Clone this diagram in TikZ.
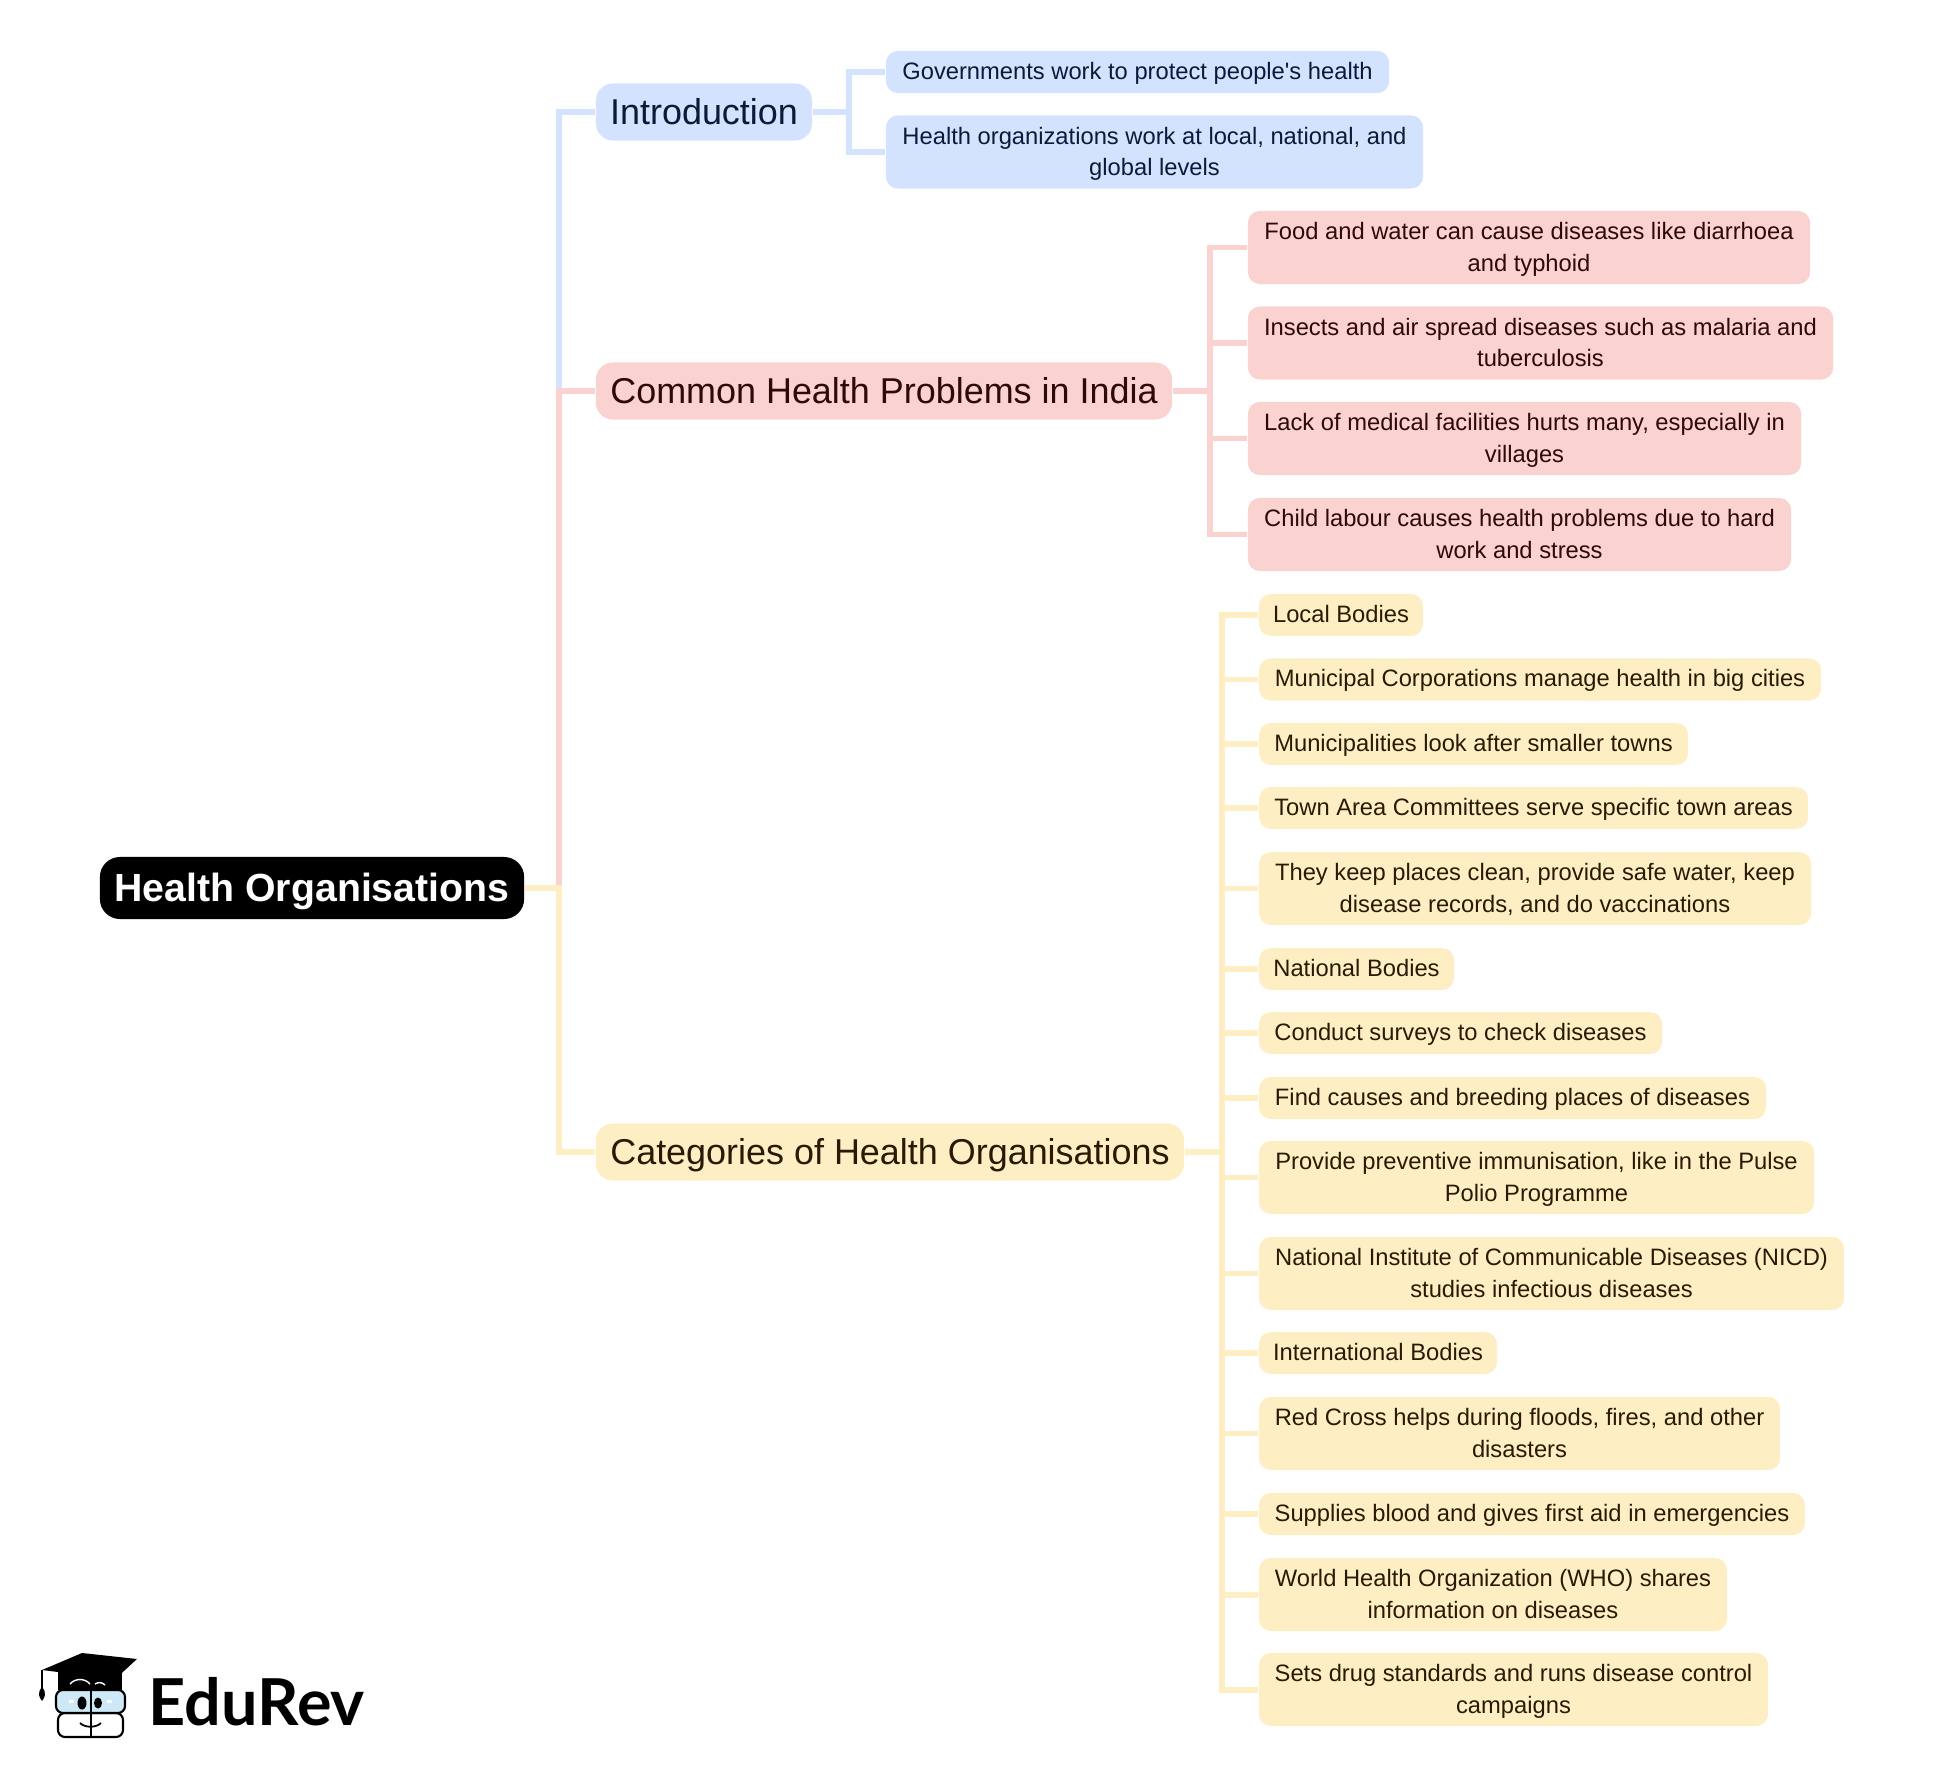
\documentclass[tikz,border=0pt]{standalone}
\usepackage{fontspec}
\setmainfont{Liberation Sans}
\newfontfamily\logofont{Lato}
\definecolor{bluefill}{HTML}{D3E3FD}
\definecolor{bluetext}{HTML}{0A1A3A}
\definecolor{redfill}{HTML}{FAD2CF}
\definecolor{redtext}{HTML}{2D0A08}
\definecolor{yellowfill}{HTML}{FDEFC3}
\definecolor{yellowtext}{HTML}{2A1A05}
\definecolor{lensblue}{HTML}{CDE8F6}
\tikzset{
  box/.style={inner sep=0pt,align=center,minimum height=0.42cm,rounded corners=0.12cm,text height=5.2pt,text depth=1pt,font=\fontsize{6.75}{9}\selectfont},
  parentbox/.style={inner sep=0pt,minimum height=0.57cm,rounded corners=0.17cm,text height=8.2pt,text depth=1.32pt,font=\fontsize{10.22}{12}\selectfont},
  tallbox/.style={minimum height=0.73cm,text height=14.5pt},
  blue box/.style={fill=bluefill,text=bluetext},
  red box/.style={fill=redfill,text=redtext},
  yellow box/.style={fill=yellowfill,text=yellowtext},
  link/.style={line width=1.7pt},
}
\begin{document}
\begin{tikzpicture}[x=0.01cm,y=-0.01cm]
\useasboundingbox (0,0) rectangle (1945,1776);

\node[fill=black,text=white,inner sep=0pt,minimum width=4.24cm,minimum height=0.62cm,rounded corners=0.2cm,text height=9pt,text depth=1.1pt,font=\fontsize{11.16}{13}\selectfont\bfseries] (root) at (312,888) {Health Organisations};

\node[parentbox,blue box,minimum width=2.16cm] (intro) at (704,112) {Introduction};
\node[parentbox,red box,minimum width=5.76cm] (common) at (884,391) {Common Health Problems in India};
\node[parentbox,yellow box,minimum width=5.88cm] (categories) at (890,1152) {Categories of Health Organisations};

\node[box,blue box,minimum width=5.03cm] (intro1) at (1137.5,72) {Governments work to protect people\textquotesingle s health};
\node[box,blue box,tallbox,minimum width=5.37cm] (intro2) at (1154.5,152) {Health organizations work at local, national, and\\global levels};

\node[box,red box,tallbox,minimum width=5.62cm] (common1) at (1529,247.5) {Food and water can cause diseases like diarrhoea\\and typhoid};
\node[box,red box,tallbox,minimum width=5.85cm] (common2) at (1540.5,343) {Insects and air spread diseases such as malaria and\\tuberculosis};
\node[box,red box,tallbox,minimum width=5.53cm] (common3) at (1524.5,438.5) {Lack of medical facilities hurts many, especially in\\villages};
\node[box,red box,tallbox,minimum width=5.43cm] (common4) at (1519.5,534.5) {Child labour causes health problems due to hard\\work and stress};

\node[box,yellow box,minimum width=1.64cm] (cat1) at (1341,615) {Local Bodies};
\node[box,yellow box,minimum width=5.62cm] (cat2) at (1540,679.5) {Municipal Corporations manage health in big cities};
\node[box,yellow box,minimum width=4.29cm] (cat3) at (1473.5,744) {Municipalities look after smaller towns};
\node[box,yellow box,minimum width=5.49cm] (cat4) at (1533.5,808) {Town Area Committees serve specific town areas};
\node[box,yellow box,tallbox,minimum width=5.52cm] (cat5) at (1535,888.5) {They keep places clean, provide safe water, keep\\disease records, and do vaccinations};
\node[box,yellow box,minimum width=1.95cm] (cat6) at (1356.5,969) {National Bodies};
\node[box,yellow box,minimum width=4.03cm] (cat7) at (1460.5,1033) {Conduct surveys to check diseases};
\node[box,yellow box,minimum width=5.07cm] (cat8) at (1512.5,1098) {Find causes and breeding places of diseases};
\node[box,yellow box,tallbox,minimum width=5.55cm] (cat9) at (1536.5,1177.5) {Provide preventive immunisation, like in the Pulse\\Polio Programme};
\node[box,yellow box,tallbox,minimum width=5.85cm] (cat10) at (1551.5,1273.5) {National Institute of Communicable Diseases (NICD)\\studies infectious diseases};
\node[box,yellow box,minimum width=2.38cm] (cat11) at (1378,1353) {International Bodies};
\node[box,yellow box,tallbox,minimum width=5.21cm] (cat12) at (1519.5,1433.5) {Red Cross helps during floods, fires, and other\\disasters};
\node[box,yellow box,minimum width=5.46cm] (cat13) at (1532,1514) {Supplies blood and gives first aid in emergencies};
\node[box,yellow box,tallbox,minimum width=4.68cm] (cat14) at (1493,1594.5) {World Health Organization (WHO) shares\\information on diseases};
\node[box,yellow box,tallbox,minimum width=5.09cm] (cat15) at (1513.5,1689.5) {Sets drug standards and runs disease control\\campaigns};

\coordinate (rootbus) at (559,888);
\coordinate (introbus) at (849,112);
\coordinate (commonbus) at (1210,391);
\coordinate (catbus) at (1221.5,1152);

\draw[link,bluefill] (root.east) -- (rootbus) |- (intro.west);
\draw[link,bluefill] (intro.east) -- (introbus) |- (intro1.west);
\draw[link,bluefill] (introbus) |- (intro2.west);

\draw[link,redfill] (root.east) -- (rootbus) |- (common.west);
\draw[link,redfill] (common.east) -- (commonbus);
\foreach \i in {1,...,4}
  \draw[link,redfill] (commonbus) |- (common\i.west);

\draw[link,yellowfill] (root.east) -- (rootbus) |- (categories.west);
\draw[link,yellowfill] (categories.east) -- (catbus);
\foreach \i in {1,...,15}
  \draw[link,yellowfill] (catbus) |- (cat\i.west);

\fill[black] (58,1690) -- (58,1672) -- (122,1672) -- (122,1690) -- cycle;
\fill[black] (42,1670) -- (82,1653) -- (137,1659) -- (112,1682) -- (58,1672) -- cycle;
\draw[black,line width=0.4pt] (42,1670) -- (42,1690);
\fill[black] (42,1687) .. controls (37,1693) and (39,1697) .. (42,1701) .. controls (45,1697) and (47,1693) .. (42,1687) -- cycle;
\draw[white,line width=0.4pt] (70,1684) .. controls (75,1678) and (85,1678) .. (90,1684);
\draw[white,line width=0.4pt] (95,1684) .. controls (98,1682) and (102,1682) .. (105,1685);
\draw[black,line width=0.6pt,fill=white,rounded corners=0.07cm] (58,1713) rectangle (123,1737);
\draw[black,line width=0.6pt,fill=lensblue,rounded corners=0.07cm] (56,1690) rectangle (125,1713);
\fill[white] (69,1700) rectangle (74,1703);
\fill[white] (107,1700) rectangle (112,1703);
\draw[black,line width=0.6pt] (91,1686) -- (91,1738);
\fill[black] (82,1703) ellipse (4.5 and 6.5);
\fill[black] (98,1703) ellipse (4 and 5.5);
\draw[black,line width=0.5pt] (80,1723) .. controls (85,1728) and (96,1728) .. (101,1723);
\node[anchor=base west,inner sep=0pt,font=\fontsize{18.4}{20}\selectfont\logofont\bfseries] (logoname) at (148,1725) {EduRev};
\end{tikzpicture}
\end{document}
